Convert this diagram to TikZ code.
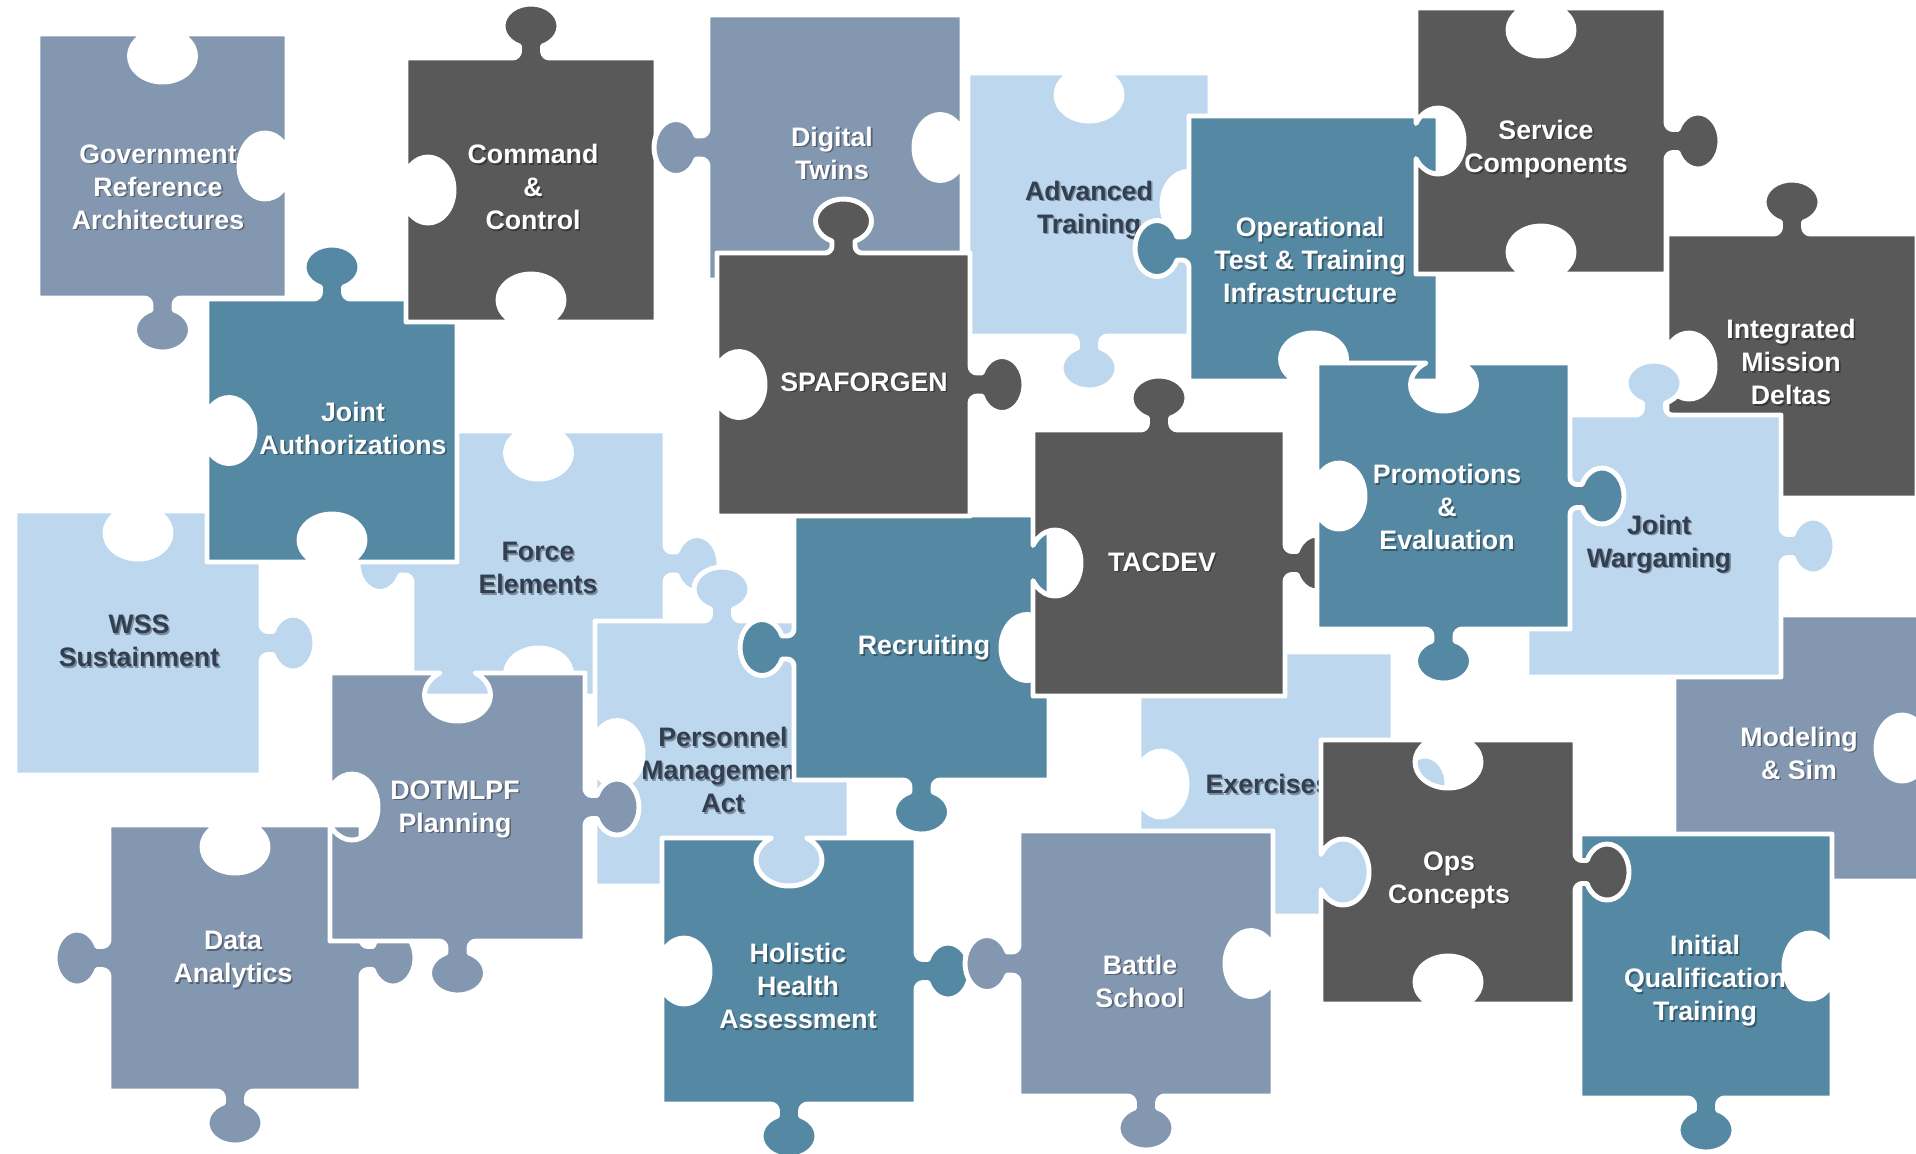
\documentclass[tikz,border=0pt]{standalone}
\usepackage{fontspec}
\setmainfont{Liberation Sans}
\usepackage{xcolor}
\usepackage{tikz}
\definecolor{slate}{HTML}{8497B0}
\definecolor{charcoal}{HTML}{595959}
\definecolor{steel}{HTML}{5589A3}
\definecolor{sky}{HTML}{BDD7EE}
\definecolor{ink}{HTML}{333F50}
\tikzset{
  piece/.style={draw=white, line width=1.4pt, line join=round},
  pslate/.style={piece, fill=slate},
  pdark/.style={piece, fill=charcoal},
  psteel/.style={piece, fill=steel},
  psky/.style={piece, fill=sky},
  lab/.style={text=white, font=\bfseries\fontsize{7.6}{9.4}\selectfont, align=center, inner sep=0pt},
  labd/.style={lab, text=ink},
  lshadow/.style={text=black, text opacity=0.35, xshift=0.45pt, yshift=-0.45pt}
}
% #1 style, #2-#5 body x1 y1 x2 y2 (px, y down), #6-#9 top right bottom left
% side codes: 0 flat, 1 knob out, 2 hole in
\newcommand\piece[9]{%
  \pgfmathsetmacro\mx{(#2+#4)/2}%
  \pgfmathsetmacro\my{(#3+#5)/2}%
  \ifcase#6 \def\segT{}\or
    \def\segT{-- (\mx-18.5,#3) arc[start angle=90, end angle=0, radius=7] -- (\mx-11.5,#3-11.94) arc[start angle=114.25, end angle=425.75, x radius=28, y radius=22] -- (\mx+11.5,#3-7) arc[start angle=180, end angle=90, radius=7] -- (\mx+18.5,#3)}\or
    \def\segT{-- (\mx-17.59,#3) arc[start angle=237.8, end angle=-57.8, x radius=33, y radius=26] -- (\mx+17.59,#3)}\fi
  \ifcase#7 \def\segR{}\or
    \def\segR{-- (#4,\my-18.5) arc[start angle=180, end angle=90, radius=7] -- (#4+11.94,\my-11.5) arc[start angle=204.25, end angle=515.75, x radius=22, y radius=28] -- (#4+7,\my+11.5) arc[start angle=270, end angle=180, radius=7] -- (#4,\my+18.5)}\or
    \def\segR{-- (#4,\my-17.59) arc[start angle=-32.2, end angle=-327.8, x radius=26, y radius=33] -- (#4,\my+17.59)}\fi
  \ifcase#8 \def\segB{}\or
    \def\segB{-- (\mx+18.5,#5) arc[start angle=270, end angle=180, radius=7] -- (\mx+11.5,#5+11.94) arc[start angle=-65.75, end angle=245.75, x radius=28, y radius=22] -- (\mx-11.5,#5+7) arc[start angle=0, end angle=-90, radius=7] -- (\mx-18.5,#5)}\or
    \def\segB{-- (\mx+17.59,#5) arc[start angle=57.8, end angle=-237.8, x radius=33, y radius=26] -- (\mx-17.59,#5)}\fi
  \ifcase#9 \def\segL{}\or
    \def\segL{-- (#2,\my+18.5) arc[start angle=0, end angle=-90, radius=7] -- (#2-11.94,\my+11.5) arc[start angle=24.25, end angle=335.75, x radius=22, y radius=28] -- (#2-7,\my-11.5) arc[start angle=90, end angle=0, radius=7] -- (#2,\my-18.5)}\or
    \def\segL{-- (#2,\my+17.59) arc[start angle=147.8, end angle=-147.8, x radius=26, y radius=33] -- (#2,\my-17.59)}\fi
  \filldraw[#1] (#2,#3) \segT -- (#4,#3) \segR -- (#4,#5) \segB -- (#2,#5) \segL -- cycle;
}
% label with a soft drop shadow: #1 style, #2 name, #3 x,y, #4 text
\newcommand\plabel[4]{%
  \node[#1, lshadow] (#2-sh) at (#3) {#4};
  \node[#1] (#2) at (#3) {#4};
}

\begin{document}
\begin{tikzpicture}[x=0.01cm, y=-0.01cm]
  \useasboundingbox (0,0) rectangle (1916,1153);
  \clip (0,0) rectangle (1916,1153);

  % back layer
  \piece{pslate, path picture={\plabel{lab}{gov}{158,187}{Government\\Reference\\Architectures}}}{38}{34}{287}{298}{2}{2}{1}{0}
  \piece{psky, path picture={\plabel{labd}{wss}{139,641}{WSS\\Sustainment}}}{15}{511}{261}{775}{2}{1}{0}{0}
  \piece{psky, path picture={\plabel{labd}{force}{538,568}{Force\\Elements}}}{412}{431}{665}{696}{2}{1}{2}{1}
  \piece{psteel, path picture={\plabel{lab}{auth}{353,428}{Joint\\Authorizations}}}{207}{299}{457}{562}{1}{0}{2}{2}
  \piece{pdark, path picture={\plabel{lab}{cmd}{533,187}{Command\\\&\\Control}}}{406}{58}{656}{322}{1}{0}{2}{2}
  \piece{pslate, path picture={\plabel{lab}{data}{233,960}{Data\\Analytics}}}{109}{825}{361}{1091}{2}{1}{1}{1}
  \piece{psky, path picture={\plabel{labd}{pma}{723,770}{Personnel\\Management\\Act}}}{595}{621}{849}{886}{1}{0}{0}{2}
  \piece{pslate, path picture={\plabel{lab}{dotmlpf}{455,809}{DOTMLPF\\Planning}}}{330}{673}{585}{941}{2}{1}{1}{2}
  \piece{psteel, path picture={\plabel{lab}{health}{798,986}{Holistic\\Health\\Assessment}}}{662}{838}{916}{1104}{2}{1}{1}{2}

  % middle
  \piece{pslate, path picture={\plabel{lab}{twins}{832,153}{Digital\\Twins}}}{708}{15}{962}{280}{0}{2}{0}{1}
  \piece{psky, path picture={\plabel{labd}{adv}{1089,210}{Advanced\\Training}}}{968}{73}{1210}{336}{2}{2}{1}{0}
  \piece{psteel, path picture={\plabel{lab}{recruit}{924,648}{Recruiting}}}{794}{515}{1049}{780}{0}{2}{1}{1}
  \piece{pdark, path picture={\plabel{lab}{spaf}{864,382}{SPAFORGEN}}}{717}{253}{970}{516}{1}{1}{0}{2}
  \piece{psteel, path picture={\plabel{lab}{optest}{1310,260}{Operational\\Test \& Training\\Infrastructure}}}{1189}{116}{1438}{381}{0}{0}{2}{1}
  \piece{pdark, path picture={\plabel{lab}{service}{1546,149}{Service\\Components}}}{1416}{8}{1666}{274}{2}{1}{2}{2}
  \piece{psky, path picture={\plabel{labd}{exer}{1268,784}{Exercises}}}{1139}{652}{1393}{916}{0}{1}{0}{2}
  \piece{pdark, path picture={\plabel{lab}{tacdev}{1162,562}{TACDEV}}}{1033}{430}{1285}{696}{1}{1}{0}{2}

  % right side
  \piece{pdark, path picture={\plabel{lab}{imd}{1791,362}{Integrated\\Mission\\Deltas}}}{1667}{234}{1917}{498}{1}{0}{0}{2}
  \piece{pslate, path picture={\plabel{lab}{msim}{1799,753}{Modeling\\\& Sim}}}{1674}{615}{1924}{881}{0}{2}{0}{0}
  \piece{psky, path picture={\plabel{labd}{wargame}{1659,544}{Joint\\Wargaming}}}{1527}{415}{1781}{677}{1}{1}{0}{0}
  \piece{psteel, path picture={\plabel{lab}{promo}{1447,507}{Promotions\\\&\\Evaluation}}}{1317}{363}{1570}{629}{2}{1}{1}{2}
  \piece{psteel, path picture={\plabel{lab}{iqt}{1705,981}{Initial\\Qualification\\Training}}}{1580}{834}{1832}{1098}{0}{2}{1}{0}
  \piece{pdark, path picture={\plabel{lab}{ops}{1449,880}{Ops\\Concepts}}}{1321}{740}{1575}{1004}{2}{1}{2}{2}
  \piece{pslate, path picture={\plabel{lab}{battle}{1140,981}{Battle\\School}}}{1019}{831}{1273}{1096}{0}{2}{1}{1}
\end{tikzpicture}
\end{document}
